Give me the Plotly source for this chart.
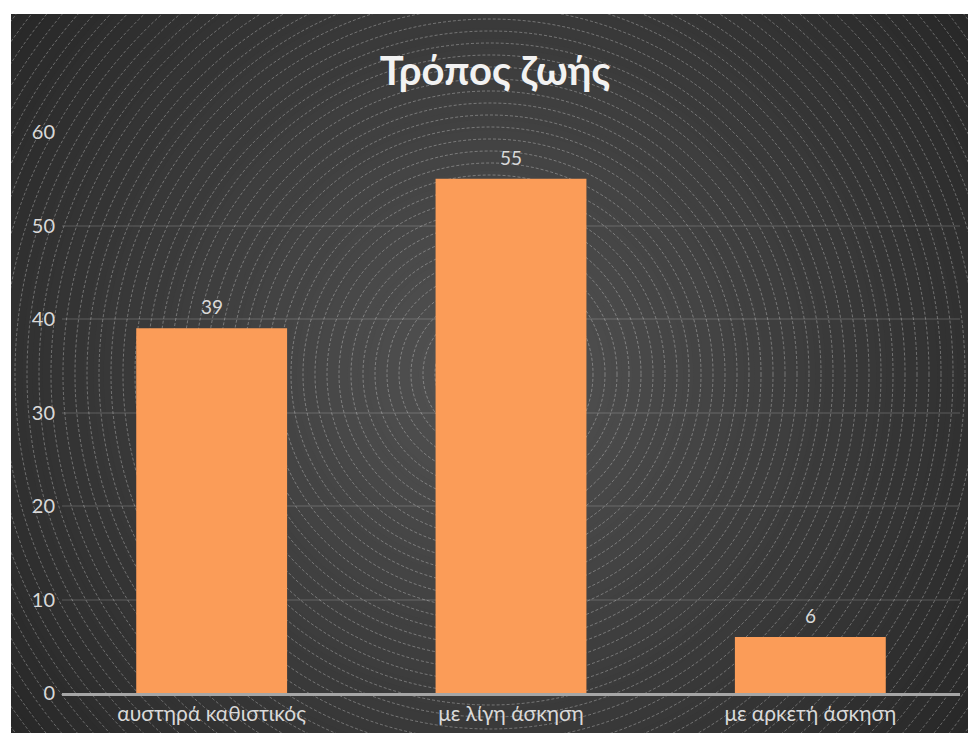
import plotly.graph_objects as go

# Survey data: lifestyle categories and respondent counts
categories = ["αυστηρά καθιστικός", "με λίγη άσκηση", "με αρκετή άσκηση"]
values = [39, 55, 6]
y_ticks = [0, 10, 20, 30, 40, 50, 60]

W, H = 968, 733
ML, MR, MT, MB = 62, 8, 132, 40
PW, PH = W - ML - MR, H - MT - MB


def px_x(px):
    return (px - ML) / PW


def px_y(py):
    return (H - MB - py) / PH


# Dark chart area (leaves a thin white border at top and left)
area_x0, area_y0 = 11, 14
cx, cy = 490, 374

shapes = []
# Stepped radial gradient: lighter centre, darker edges
n_steps = 60
r_max = 610
c_in, c_out = (0x54, 0x54, 0x54), (0x27, 0x27, 0x27)
for i in range(n_steps):
    r = r_max * (n_steps - i) / n_steps
    t = r / r_max
    c = tuple(round(c_in[k] + (c_out[k] - c_in[k]) * t) for k in range(3))
    shapes.append(dict(
        type="circle", layer="below", xref="paper", yref="paper",
        xsizemode="pixel", ysizemode="pixel",
        xanchor=px_x(cx), yanchor=px_y(cy),
        x0=-r, x1=r, y0=-r, y1=r,
        fillcolor="rgb(%d,%d,%d)" % c, line=dict(width=0),
    ))
# Thin concentric rings
r = 7
while r < 620:
    shapes.append(dict(
        type="circle", layer="below", xref="paper", yref="paper",
        xsizemode="pixel", ysizemode="pixel",
        xanchor=px_x(cx), yanchor=px_y(cy),
        x0=-r, x1=r, y0=-r, y1=r,
        fillcolor="rgba(0,0,0,0)",
        line=dict(width=1, color="rgba(255,255,255,0.30)", dash="3px,2px"),
    ))
    r += 12
# White border strips above and left of the dark area
shapes.append(dict(type="rect", layer="below", xref="paper", yref="paper",
                   x0=-1, x1=2, y0=px_y(area_y0), y1=3,
                   fillcolor="white", line=dict(width=0)))
shapes.append(dict(type="rect", layer="below", xref="paper", yref="paper",
                   x0=-1, x1=px_x(area_x0), y0=-1, y1=3,
                   fillcolor="white", line=dict(width=0)))

fig = go.Figure(go.Bar(
    x=categories, y=values,
    marker=dict(color="#fb9c58", line=dict(width=0)),
    hoverinfo="skip",
))

annotations = [
    dict(x=c, y=v, xref="x", yref="y", text=str(v), showarrow=False,
         yanchor="bottom", yshift=8,
         font=dict(family="Lato", size=19, color="#d9d9d9"))
    for c, v in zip(categories, values)
]

fig.update_layout(
    width=W, height=H,
    margin=dict(l=ML, r=MR, t=MT, b=MB),
    paper_bgcolor="white",
    plot_bgcolor="rgba(0,0,0,0)",
    bargap=0.496,
    showlegend=False,
    shapes=shapes,
    annotations=annotations,
    title=dict(
        text="Τρόπος ζωής", x=495 / W, xref="container", xanchor="center",
        y=1 - 71 / H, yref="container", yanchor="middle",
        font=dict(family="Lato", size=40, color="#f2f2f2", weight="bold"),
    ),
    font=dict(family="Lato", color="#d9d9d9"),
)
fig.update_yaxes(
    range=[0, 60], tickvals=y_ticks, showgrid=True,
    gridcolor="rgba(255,255,255,0.10)", gridwidth=2,
    zeroline=False, showline=False, ticks="",
    tickfont=dict(family="Lato", size=20, color="#d9d9d9"),
    ticklabelstandoff=6,
)
fig.update_xaxes(
    showgrid=False, zeroline=False, ticks="",
    showline=True, linecolor="#a6a6a6", linewidth=3,
    tickfont=dict(family="Lato", size=21, color="#d9d9d9"),
)

fig.write_html("out.html")
